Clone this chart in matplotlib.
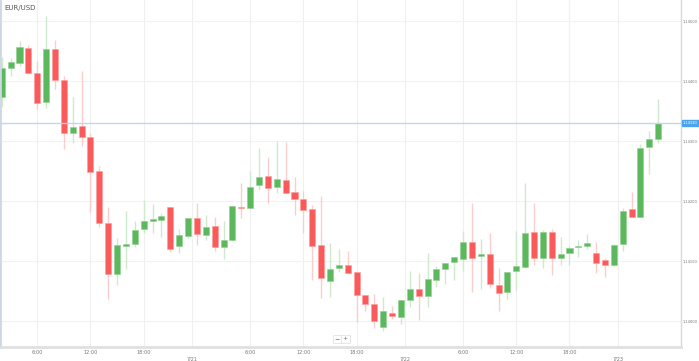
import numpy as np
import matplotlib.pyplot as plt
from matplotlib.transforms import blended_transform_factory

# hourly EUR/USD candles, first candle is 7/20 2:00
opens = [1.14373, 1.14422, 1.14430, 1.14455, 1.14413, 1.14365, 1.14453, 1.14402, 1.14313, 1.14325,
         1.14307, 1.14250, 1.14163, 1.14078, 1.14125, 1.14128, 1.14153, 1.14167, 1.14168, 1.14190,
         1.14125, 1.14142, 1.14172, 1.14143, 1.14158, 1.14123, 1.14135, 1.14190, 1.14188, 1.14227,
         1.14242, 1.14223, 1.14235, 1.14215, 1.14203, 1.14187, 1.14127, 1.14067, 1.14088, 1.14093,
         1.14082, 1.14043, 1.14028, 1.13990, 1.14013, 1.14007, 1.14035, 1.14053, 1.14042, 1.14068,
         1.14087, 1.14098, 1.14103, 1.14132, 1.14108, 1.14112, 1.14060, 1.14048, 1.14083, 1.14090,
         1.14148, 1.14105, 1.14148, 1.14105, 1.14113, 1.14123, 1.14125, 1.14113, 1.14102, 1.14093,
         1.14128, 1.14187, 1.14173, 1.14290, 1.14303]
highs = [1.14440, 1.14438, 1.14467, 1.14460, 1.14433, 1.14508, 1.14468, 1.14408, 1.14373, 1.14417,
         1.14313, 1.14258, 1.14190, 1.14138, 1.14183, 1.14167, 1.14202, 1.14195, 1.14180, 1.14190,
         1.14153, 1.14172, 1.14197, 1.14177, 1.14173, 1.14167, 1.14192, 1.14230, 1.14250, 1.14288,
         1.14273, 1.14300, 1.14298, 1.14240, 1.14217, 1.14193, 1.14208, 1.14130, 1.14120, 1.14117,
         1.14082, 1.14043, 1.14045, 1.14040, 1.14025, 1.14035, 1.14083, 1.14080, 1.14113, 1.14092,
         1.14097, 1.14107, 1.14150, 1.14197, 1.14137, 1.14147, 1.14088, 1.14082, 1.14150, 1.14230,
         1.14197, 1.14152, 1.14153, 1.14140, 1.14125, 1.14135, 1.14145, 1.14132, 1.14105, 1.14128,
         1.14188, 1.14215, 1.14295, 1.14317, 1.14370]
lows = [1.14357, 1.14408, 1.14425, 1.14412, 1.14353, 1.14355, 1.14387, 1.14287, 1.14297, 1.14292,
        1.14182, 1.14157, 1.14037, 1.14060, 1.14087, 1.14123, 1.14147, 1.14147, 1.14140, 1.14115,
        1.14113, 1.14138, 1.14127, 1.14135, 1.14117, 1.14103, 1.14133, 1.14172, 1.14188, 1.14218,
        1.14197, 1.14213, 1.14213, 1.14177, 1.14147, 1.14068, 1.14038, 1.14040, 1.14082, 1.14078,
        1.13998, 1.14017, 1.13988, 1.13983, 1.14003, 1.13995, 1.14023, 1.14002, 1.14023, 1.14057,
        1.14062, 1.14068, 1.14083, 1.14048, 1.14053, 1.14055, 1.14017, 1.14037, 1.14052, 1.14088,
        1.14093, 1.14088, 1.14077, 1.14093, 1.14093, 1.14107, 1.14120, 1.14080, 1.14073, 1.14092,
        1.14117, 1.14173, 1.14173, 1.14245, 1.14297]
closes = [1.14422, 1.14432, 1.14457, 1.14413, 1.14363, 1.14453, 1.14402, 1.14313, 1.14323, 1.14307,
          1.14248, 1.14163, 1.14078, 1.14127, 1.14128, 1.14152, 1.14167, 1.14170, 1.14175, 1.14120,
          1.14143, 1.14172, 1.14145, 1.14157, 1.14123, 1.14135, 1.14192, 1.14188, 1.14223, 1.14240,
          1.14222, 1.14237, 1.14213, 1.14203, 1.14185, 1.14125, 1.14072, 1.14087, 1.14093, 1.14080,
          1.14043, 1.14028, 1.14000, 1.14017, 1.14008, 1.14035, 1.14053, 1.14042, 1.14070, 1.14087,
          1.14097, 1.14107, 1.14132, 1.14105, 1.14112, 1.14062, 1.14047, 1.14082, 1.14092, 1.14147,
          1.14105, 1.14148, 1.14105, 1.14112, 1.14122, 1.14125, 1.14130, 1.14097, 1.14093, 1.14127,
          1.14183, 1.14173, 1.14288, 1.14303, 1.14330]

first_hour = 2
hour_ticks = [6, 12, 18, 30, 36, 42, 54, 60, 66]
hour_labels = ["6:00", "12:00", "18:00", "6:00", "12:00", "18:00", "6:00", "12:00", "18:00"]
day_ticks = [24, 48, 72]
day_labels = ["7/21", "7/22", "7/23"]
price_ticks = [1.140, 1.141, 1.142, 1.143, 1.144, 1.145]

green = "#5cb85c"
red = "#fb5a5a"
green_w = "#cfe9cf"
red_w = "#fdcccc"

o = np.array(opens)
h = np.array(highs)
l = np.array(lows)
c = np.array(closes)
x = np.arange(len(o))
up = c >= o

fig = plt.figure(figsize=(6.99, 3.61), dpi=100)
ax = fig.add_axes([0, 14 / 361, 681 / 699, 347 / 361])

# grid
for t in hour_ticks + day_ticks:
    xi = t - first_hour - (0.5 if t in day_ticks else 0)
    ax.axvline(xi, color="#f0f0f0", lw=0.8, zorder=0)
for p in price_ticks:
    ax.axhline(p, color="#f2f2f2", lw=0.8, zorder=0)

# wicks
ax.vlines(x[up], l[up], h[up], color=green_w, lw=1.0, zorder=1)
ax.vlines(x[~up], l[~up], h[~up], color=red_w, lw=1.0, zorder=1)

# bodies
body_low = np.minimum(o, c)
body_h = np.maximum(np.abs(c - o), 0.00002)
ax.bar(x[up], body_h[up], bottom=body_low[up], width=0.68, color=green,
       edgecolor="#8fd08f", lw=0.4, zorder=2)
ax.bar(x[~up], body_h[~up], bottom=body_low[~up], width=0.68, color=red,
       edgecolor="#ff9a9a", lw=0.4, zorder=2)

# current price line + label
last = closes[-1]
ax.axhline(last, color="#b9d8f2", lw=1.0, zorder=3)
tr = blended_transform_factory(ax.transAxes, ax.transData)
ax.text(1.003, last, f"{last:.5f}", transform=tr, fontsize=2.6, color="white",
        va="center", ha="left", clip_on=False,
        bbox=dict(boxstyle="square,pad=0.2", fc="#4aa3ec", ec="#4aa3ec"))

ax.set_xlim(-0.2, 76.57)
ax.set_ylim(1.139567, 1.14535)

ax.yaxis.tick_right()
ax.set_yticks(price_ticks)
ax.set_yticklabels([f"{p:.5f}" for p in price_ticks])
ax.tick_params(axis="y", length=0, pad=1.5, labelsize=2.6, labelcolor="#777777")

ax.set_xticks([t - first_hour for t in hour_ticks])
ax.set_xticklabels(hour_labels)
ax.set_xticks([t - first_hour - 0.5 for t in day_ticks], minor=True)
ax.set_xticklabels(day_labels, minor=True)
ax.tick_params(axis="x", which="major", length=0, pad=2, labelsize=3.6, labelcolor="#777777")
ax.tick_params(axis="x", which="minor", length=0, pad=7, labelsize=3.6, labelcolor="#777777")

ax.spines["top"].set_visible(False)
ax.spines["right"].set_color("#d9d9d9")
ax.spines["right"].set_linewidth(1.0)
ax.spines["bottom"].set_color("#e0e0e0")
ax.spines["bottom"].set_linewidth(2.0)
ax.spines["left"].set_color("#cdd8e2")
ax.spines["left"].set_linewidth(2.0)

fig.text(4 / 699, 1 - 8 / 361, "EUR/USD", fontsize=5, color="#555555", va="center", ha="left")

# zoom buttons
fig.text(337 / 699, 1 - 339 / 361, "\u2212", fontsize=4.5, color="#666666", ha="center", va="center",
         bbox=dict(boxstyle="square,pad=0.3", fc="white", ec="#dddddd", lw=0.5))
fig.text(345 / 699, 1 - 339 / 361, "+", fontsize=4.5, color="#666666", ha="center", va="center",
         bbox=dict(boxstyle="square,pad=0.3", fc="white", ec="#dddddd", lw=0.5))

fig.savefig("out.png", dpi=100)
